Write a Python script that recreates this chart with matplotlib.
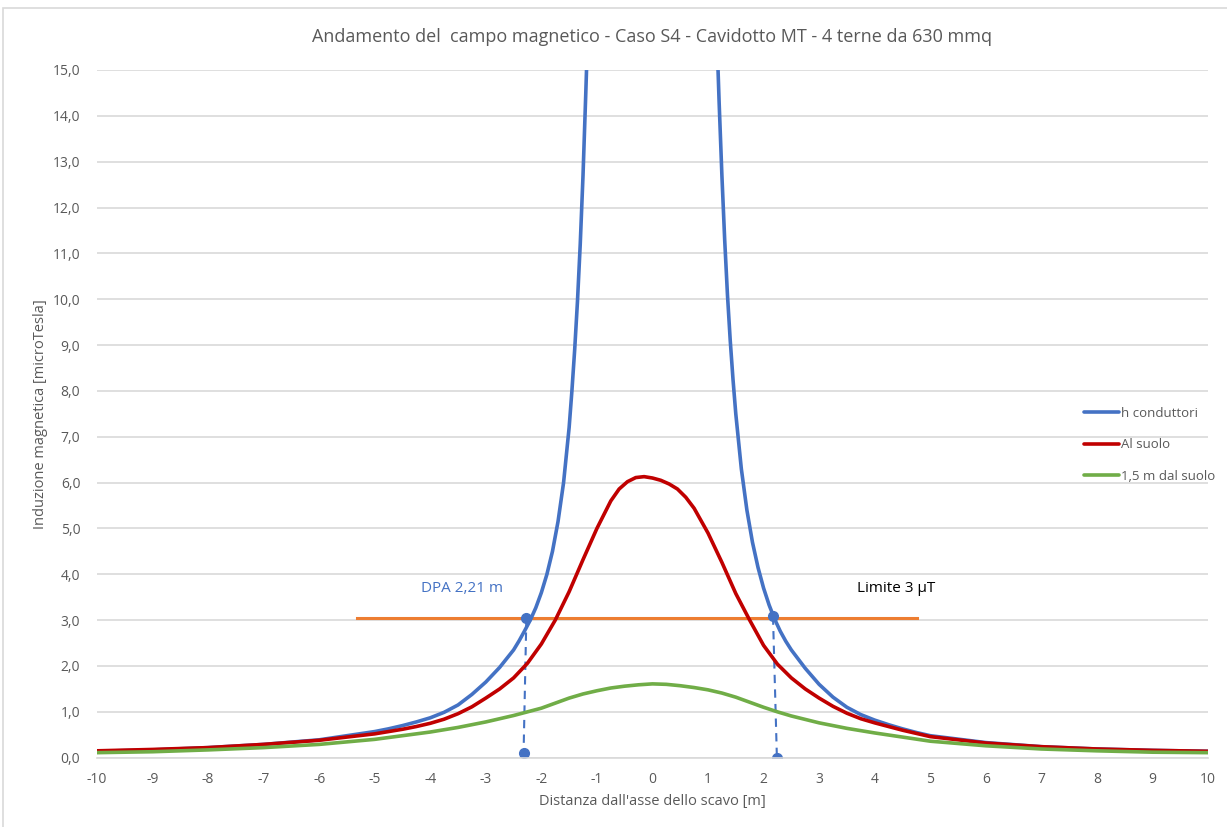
import numpy as np
import matplotlib
matplotlib.use('Agg')
import matplotlib.pyplot as plt
from matplotlib.ticker import FuncFormatter, MultipleLocator
from matplotlib.patches import Rectangle

plt.rcParams['font.family'] = ['Open Sans', 'DejaVu Sans']

# valori [m] -> [microTesla]
x_blu = [-10, -9, -8, -7, -6, -5, -4.75, -4.5, -4.25, -4, -3.75, -3.5, -3.25, -3, -2.75, -2.5, -2.4,
         -2.3, -2.2, -2.1, -2.0, -1.9, -1.8, -1.7, -1.6, -1.5, -1.45, -1.4, -1.35, -1.3, -1.25, -1.2,
         -1.15, -1.1, -1.0, -0.75, -0.5, 0, 0.5, 0.75, 1.0, 1.1, 1.15, 1.2, 1.25, 1.3, 1.35, 1.4, 1.45,
         1.5, 1.6, 1.7, 1.8, 1.9, 2.0, 2.1, 2.2, 2.3, 2.4, 2.5, 2.75, 3, 3.25, 3.5, 3.75, 4, 4.25,
         4.5, 4.75, 5, 6, 7, 8, 9, 10]
h_conduttori = [0.14, 0.17, 0.22, 0.29, 0.39, 0.57, 0.63, 0.70, 0.78, 0.87, 0.99, 1.15, 1.38, 1.65,
                1.97, 2.35, 2.55, 2.77, 3.0, 3.27, 3.6, 4.0, 4.5, 5.15, 6.0, 7.2, 8.0, 8.9, 9.95,
                11.2, 12.7, 14.5, 16.4, 18.5, 23, 35, 45, 50, 45, 35, 22, 18, 16.1, 14.3, 12.7,
                11.3, 10.1, 9.1, 8.25, 7.5, 6.3, 5.4, 4.7, 4.15, 3.7, 3.33, 3.02, 2.76, 2.54, 2.35,
                1.95, 1.6, 1.32, 1.1, 0.94, 0.82, 0.72, 0.63, 0.55, 0.48, 0.33, 0.24, 0.19, 0.16,
                0.14]

x_rosso = [-10, -9, -8, -7, -6, -5, -4.75, -4.5, -4.25, -4, -3.75, -3.5, -3.25, -3, -2.75, -2.5, -2.25,
           -2, -1.75, -1.5, -1.25, -1, -0.75, -0.6, -0.45, -0.3, -0.15, 0, 0.15, 0.3, 0.45, 0.6, 0.75,
           1, 1.25, 1.5, 1.75, 2, 2.25, 2.5, 2.75, 3, 3.25, 3.5, 3.75, 4, 4.25, 4.5, 4.75, 5, 6, 7,
           8, 9, 10]
al_suolo = [0.15, 0.18, 0.22, 0.29, 0.38, 0.52, 0.57, 0.62, 0.68, 0.75, 0.84, 0.96, 1.11, 1.30, 1.50,
            1.74, 2.06, 2.48, 3.0, 3.62, 4.32, 5.0, 5.6, 5.86, 6.02, 6.11, 6.13, 6.1, 6.05, 5.97,
            5.86, 5.68, 5.44, 4.9, 4.26, 3.58, 3.0, 2.45, 2.04, 1.74, 1.5, 1.3, 1.12, 0.97, 0.85,
            0.76, 0.68, 0.60, 0.53, 0.46, 0.32, 0.24, 0.19, 0.16, 0.14]

x_verde = [-10, -9, -8, -7, -6, -5, -4.5, -4, -3.5, -3, -2.5, -2.25, -2, -1.75, -1.5, -1.25, -1, -0.75,
           -0.5, -0.25, 0, 0.25, 0.5, 0.75, 1, 1.25, 1.5, 1.75, 2, 2.25, 2.5, 3, 3.5, 4, 4.5, 5, 6, 7,
           8, 9, 10]
dal_suolo_15 = [0.11, 0.13, 0.17, 0.22, 0.29, 0.40, 0.48, 0.56, 0.66, 0.78, 0.92, 1.0, 1.08, 1.19,
                1.30, 1.39, 1.46, 1.52, 1.56, 1.59, 1.61, 1.60, 1.57, 1.53, 1.48, 1.41, 1.32, 1.21,
                1.10, 1.0, 0.91, 0.76, 0.64, 0.54, 0.45, 0.36, 0.26, 0.19, 0.15, 0.12, 0.11]

limite = 3.05
limite_x = [-5.31, 4.77]
dpa_sx_x = [-2.27, -2.32]
dpa_sx_y = [3.05, 0.1]
dpa_dx_x = [2.17, 2.24]
dpa_dx_y = [3.08, 0.0]

grigio = '#595959'

fig = plt.figure(figsize=(12.27, 8.27), dpi=100)
ax = fig.add_axes([0.079, 0.0838, 0.9055, 0.8316])

ax.plot(limite_x, [limite, limite], color='#ED7D31', lw=2.2, zorder=2)
ax.plot(dpa_sx_x, dpa_sx_y, color='#4472C4', lw=1.5, ls=(0, (4, 3)), marker='o', ms=7, zorder=2)
ax.plot(dpa_dx_x, dpa_dx_y, color='#4472C4', lw=1.5, ls=(0, (4, 3)), marker='o', ms=7, zorder=2)

stile = dict(lw=2.6, zorder=3, solid_joinstyle='round', solid_capstyle='round')
ax.plot(x_blu, h_conduttori, color='#4472C4', label='h conduttori', **stile)
ax.plot(x_rosso, al_suolo, color='#C00000', label='Al suolo', **stile)
ax.plot(x_verde, dal_suolo_15, color='#70AD47', label='1,5 m dal suolo', **stile)

ax.set_xlim(-10, 10)
ax.set_ylim(0, 15)
ax.xaxis.set_major_locator(MultipleLocator(1))
ax.yaxis.set_major_locator(MultipleLocator(1))
ax.yaxis.set_major_formatter(FuncFormatter(lambda v, p: f'{v:.1f}'.replace('.', ',')))
ax.xaxis.set_major_formatter(FuncFormatter(lambda v, p: f'{v:.0f}'))
ax.grid(axis='y', color='#D9D9D9', lw=1.2)
ax.set_axisbelow(True)
for s in ['top', 'right', 'left']:
    ax.spines[s].set_visible(False)
ax.spines['bottom'].set_color('#D9D9D9')
ax.spines['bottom'].set_linewidth(1.2)
ax.tick_params(length=0, colors=grigio, labelsize=10)
ax.tick_params(axis='x', pad=10)
ax.tick_params(axis='y', pad=12)

ax.set_title('Andamento del  campo magnetico - Caso S4 - Cavidotto MT - 4 terne da 630 mmq',
             color=grigio, fontsize=13, pad=20)
ax.set_xlabel("Distanza dall'asse dello scavo [m]", color=grigio, fontsize=10.5, labelpad=5)
ax.set_ylabel('Induzione magnetica [microTesla]', color=grigio, fontsize=10.5, labelpad=3)

ax.text(-4.16, 3.7, 'DPA 2,21 m', color='#4472C4', fontsize=11, va='center')
ax.text(3.69, 3.7, 'Limite 3 µT', color='black', fontsize=11, va='center')

leg = ax.legend(loc='center left', bbox_to_anchor=(0.878, 0.455), frameon=False, fontsize=9.5,
                handlelength=2.6, handletextpad=0.2, labelspacing=1.4, labelcolor=grigio)

fig.patches.append(Rectangle((3 / 1227, -0.01), 1.1, 1 - 8 / 827 + 0.01, transform=fig.transFigure,
                             fill=False, edgecolor='#D9D9D9', lw=1.2))

fig.savefig('out.png', dpi=100, facecolor='white')
